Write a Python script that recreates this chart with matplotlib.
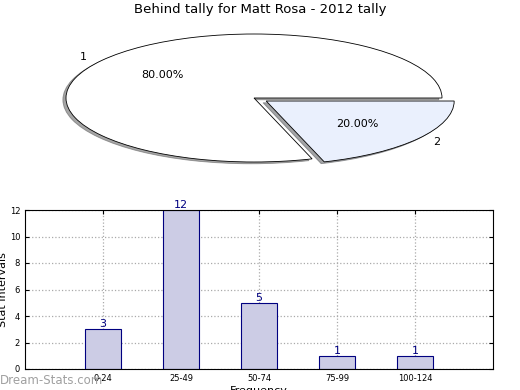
import matplotlib
matplotlib.use("Agg")
import matplotlib.pyplot as plt
import numpy as np

TITLE = "Behind tally for Matt Rosa - 2012 tally"
PIE_LABELS = ["1", "2"]
PIE_VALUES = [80, 20]
PIE_COLORS = ["#ffffff", "#eaf0fd"]

BINS = ["0-24", "25-49", "50-74", "75-99", "100-124"]
COUNTS = [3, 12, 5, 1, 1]

fig = plt.figure(figsize=(5.2, 3.9), dpi=100)

# --- pie (squashed into an ellipse) ---
axp = fig.add_axes([19 / 520, 1 - 178 / 390, 470 / 520, 160 / 390])
wedges, texts, autotexts = axp.pie(
    PIE_VALUES,
    labels=PIE_LABELS,
    colors=PIE_COLORS,
    explode=[0, 0.08],
    autopct="%1.2f%%",
    startangle=0,
    shadow=dict(ox=-0.012, oy=-0.02),
    wedgeprops=dict(edgecolor="black", linewidth=0.6),
    textprops=dict(fontsize=8),
)
axp.set_aspect("auto")
axp.set_xlim(-1.25, 1.25)
axp.set_ylim(-1.25, 1.25)
fig.text(0.5, 1 - 10 / 390, TITLE, ha="center", va="center", fontsize=9.5)

# --- bars ---
ax = fig.add_axes([25 / 520, 21 / 390, 468 / 520, 159 / 390])
x = np.arange(len(BINS))
ax.bar(x, COUNTS, width=0.46, color="#cccce5", edgecolor="#000080",
       linewidth=0.8, zorder=2)
for xi, c in zip(x, COUNTS):
    ax.text(xi, c, str(c), ha="center", va="bottom", color="#000080",
            fontsize=8, zorder=3)
ax.set_xlim(-1, 5)
ax.set_ylim(0, 12)
ax.set_yticks(range(0, 13, 2))
ax.set_xticks(x)
ax.set_xticklabels(BINS)
ax.tick_params(labelsize=6, direction="in", top=True, right=True, length=3)
ax.grid(True, linestyle=":", color="#aaaaaa", linewidth=0.9, zorder=0)
ax.set_axisbelow(True)
ax.set_ylabel("Stat Intervals", fontsize=8, labelpad=1)
ax.set_xlabel("Frequency", fontsize=8, labelpad=2)

fig.text(0.0, 1 - 380 / 390, "Dream-Stats.com", ha="left", va="center",
         fontsize=8.5, color="#a0a0a0")

fig.savefig("out.png", dpi=100)
